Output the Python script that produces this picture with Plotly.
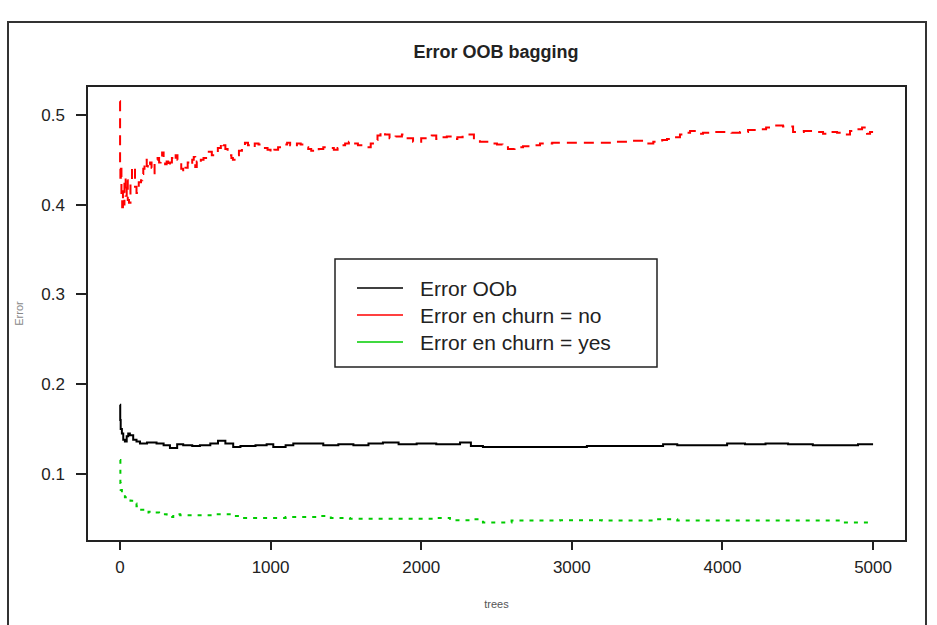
import plotly.graph_objects as go

# ---- data ----
red_trees = [0, 1, 3, 6, 10, 15, 20, 25, 30, 38, 45, 52, 60, 70, 80, 90, 100, 110, 125, 140,
             148, 155, 163, 170, 178, 185, 193, 200, 210, 220, 230, 240, 250, 260, 270, 280,
             290, 300, 310, 320, 332, 345, 357, 370, 382, 395, 407, 420, 435, 450, 465, 480,
             490, 500, 510, 520, 537, 555, 572, 590, 610, 630, 650, 670, 685, 700, 715, 730,
             740, 750, 770, 790, 810, 830, 850, 870, 895, 920, 940, 960, 980, 1000, 1025, 1050,
             1080, 1110, 1130, 1150, 1175, 1200, 1225, 1250, 1270, 1290, 1320, 1350, 1385, 1420,
             1445, 1470, 1495, 1520, 1550, 1580, 1610, 1640, 1665, 1690, 1710, 1730, 1760, 1790,
             1830, 1872, 1910, 1946, 2000, 2038, 2070, 2100, 2135, 2170, 2205, 2240, 2275, 2311,
             2350, 2390, 2450, 2503, 2540, 2576, 2620, 2676, 2730, 2789, 2870, 2966, 3100, 3275,
             3406, 3480, 3541, 3600, 3632, 3680, 3718, 3750, 3785, 3830, 3871, 3940, 4004, 4060,
             4117, 4170, 4229, 4290, 4336, 4402, 4469, 4540, 4602, 4668, 4710, 4761, 4800, 4847,
             4890, 4927, 4960, 4980, 5000]
red_err = [0.515, 0.445, 0.430, 0.440, 0.405, 0.397, 0.415, 0.400, 0.430, 0.410, 0.427, 0.405,
           0.402, 0.425, 0.440, 0.442, 0.420, 0.413, 0.425, 0.427, 0.434, 0.440, 0.446, 0.450,
           0.443, 0.440, 0.445, 0.447, 0.441, 0.435, 0.444, 0.450, 0.452, 0.447, 0.453, 0.458,
           0.451, 0.445, 0.448, 0.442, 0.447, 0.452, 0.449, 0.455, 0.450, 0.445, 0.440, 0.436,
           0.441, 0.447, 0.444, 0.450, 0.453, 0.442, 0.448, 0.446, 0.450, 0.452, 0.456, 0.459,
           0.455, 0.458, 0.463, 0.469, 0.466, 0.462, 0.458, 0.455, 0.452, 0.450, 0.455, 0.460,
           0.465, 0.469, 0.466, 0.464, 0.468, 0.467, 0.463, 0.463, 0.461, 0.458, 0.461, 0.464,
           0.467, 0.469, 0.466, 0.465, 0.468, 0.467, 0.464, 0.462, 0.460, 0.459, 0.462, 0.464,
           0.463, 0.461, 0.463, 0.466, 0.468, 0.470, 0.468, 0.466, 0.465, 0.464, 0.468, 0.472,
           0.477, 0.481, 0.478, 0.474, 0.476, 0.478, 0.474, 0.470, 0.474, 0.475, 0.477, 0.473,
           0.475, 0.476, 0.473, 0.475, 0.477, 0.478, 0.474, 0.470, 0.468, 0.467, 0.464, 0.462,
           0.464, 0.465, 0.466, 0.468, 0.469, 0.469, 0.469, 0.470, 0.471, 0.468, 0.470, 0.472,
           0.473, 0.475, 0.478, 0.480, 0.482, 0.479, 0.480, 0.481, 0.481, 0.480, 0.481, 0.483,
           0.484, 0.486, 0.488, 0.487, 0.481, 0.482, 0.481, 0.479, 0.481, 0.480, 0.478, 0.482,
           0.484, 0.486, 0.479, 0.481, 0.481]

oob_trees = [0, 2, 5, 13, 22, 33, 45, 55, 66, 88, 110, 133, 180, 243, 290, 332, 380, 420, 480,
             531, 600, 651, 700, 752, 800, 900, 974, 1018, 1100, 1151, 1263, 1350, 1450, 1550,
             1650, 1746, 1850, 1970, 2100, 2191, 2258, 2330, 2410, 2523, 2700, 2922, 3100, 3300,
             3500, 3606, 3700, 3900, 4031, 4150, 4286, 4436, 4600, 4801, 4900, 5000]
oob_err = [0.177, 0.160, 0.150, 0.145, 0.138, 0.136, 0.142, 0.145, 0.143, 0.138, 0.136, 0.134,
           0.135, 0.134, 0.132, 0.129, 0.133, 0.132, 0.131, 0.132, 0.134, 0.137, 0.134, 0.130,
           0.131, 0.132, 0.133, 0.130, 0.132, 0.134, 0.134, 0.132, 0.133, 0.132, 0.134, 0.135,
           0.133, 0.134, 0.133, 0.133, 0.135, 0.131, 0.130, 0.130, 0.130, 0.130, 0.131, 0.131,
           0.131, 0.133, 0.132, 0.132, 0.134, 0.133, 0.134, 0.133, 0.132, 0.132, 0.133, 0.133]

green_trees = [0, 3, 5, 13, 33, 46, 70, 88, 110, 130, 155, 190, 221, 260, 310, 354, 400, 531,
               620, 710, 760, 797, 900, 974, 1100, 1195, 1306, 1400, 1527, 1700, 1850, 2080,
               2191, 2324, 2410, 2600, 2922, 3200, 3566, 3700, 4000, 4400, 4801, 5000]
green_err = [0.1154, 0.090, 0.082, 0.0764, 0.074, 0.073, 0.070, 0.067, 0.064, 0.060, 0.057,
             0.058, 0.057, 0.055, 0.052, 0.055, 0.054, 0.054, 0.055, 0.055, 0.053, 0.051, 0.051,
             0.051, 0.052, 0.052, 0.053, 0.051, 0.050, 0.050, 0.050, 0.051, 0.0485, 0.0496,
             0.046, 0.048, 0.0485, 0.048, 0.0496, 0.048, 0.048, 0.048, 0.046, 0.047]

series_names = ["Error OOb", "Error en churn = no", "Error en churn = yes"]
series_colors = ["#000000", "#FF0000", "#00CC00"]
series_dash = ["solid", "10px,7px", "4px,6px"]

x_ticks = [0, 1000, 2000, 3000, 4000, 5000]
y_ticks = [0.1, 0.2, 0.3, 0.4, 0.5]

FONT = "Liberation Sans, Arial, sans-serif"

# plot-area geometry in pixels (used to place paper-referenced decorations)
L, R, T, B = 88, 905, 87, 540
W, H = 937, 625


def px(x):
    return (x - L) / (R - L)


def py(y):
    return (B - y) / (B - T)


fig = go.Figure()
for xs, ys, col, dsh, name in zip([oob_trees, red_trees, green_trees],
                                  [oob_err, red_err, green_err],
                                  series_colors, series_dash, series_names):
    fig.add_trace(go.Scatter(x=xs, y=ys, mode="lines", name=name, showlegend=False,
                             line=dict(color=col, width=2, dash=dsh, shape="hv")))

fig.update_layout(
    width=W, height=H,
    margin=dict(l=L, r=W - R, t=T, b=H - B),
    paper_bgcolor="white", plot_bgcolor="white",
    font=dict(family=FONT, color="#222"),
    title=dict(text="<b>Error OOB bagging</b>", x=(496 / W), xanchor="center",
               y=1 - 52 / H, yanchor="middle", font=dict(size=18, color="#222")),
    showlegend=False,
)
fig.update_xaxes(range=[-212, 5212], tickvals=x_ticks, ticktext=[str(v) for v in x_ticks],
                 showgrid=False, zeroline=False, showline=True, mirror=True,
                 linecolor="#222", linewidth=1.5, ticks="outside", ticklen=8,
                 tickwidth=1.5, tickcolor="#222", ticklabelstandoff=3,
                 tickfont=dict(size=17, color="#222"),
                 title=dict(text="trees", font=dict(size=11, color="#555"), standoff=24))
fig.update_yaxes(range=[0.0264, 0.531], tickvals=y_ticks, ticktext=[str(v) for v in y_ticks],
                 showgrid=False, zeroline=False, showline=True, mirror=True,
                 linecolor="#222", linewidth=1.5, ticks="outside", ticklen=10,
                 tickwidth=1.5, tickcolor="#222", ticklabelstandoff=8,
                 tickfont=dict(size=17, color="#222"),
                 title=dict(text="Error", font=dict(size=11, color="#888"), standoff=15))

# legend box (R-style legend with solid sample lines)
fig.add_shape(type="rect", xref="paper", yref="paper",
              x0=px(335), x1=px(657), y0=py(367), y1=py(259),
              line=dict(color="#222", width=1.5), fillcolor="white", layer="above")
row_y = [288, 315, 342]
for name, col, ry in zip(series_names, series_colors, row_y):
    fig.add_shape(type="line", xref="paper", yref="paper",
                  x0=px(357), x1=px(403), y0=py(ry), y1=py(ry),
                  line=dict(color=col, width=1.5), layer="above")
    fig.add_annotation(xref="paper", yref="paper", x=px(418), y=py(ry),
                       xanchor="left", yanchor="middle", showarrow=False,
                       text=name, font=dict(size=21, color="#222"))

# outer frame of the screenshot
fig.add_shape(type="rect", xref="paper", yref="paper",
              x0=px(8), x1=px(926), y0=py(640), y1=py(22),
              line=dict(color="#333", width=2), fillcolor="rgba(0,0,0,0)", layer="below")

fig.write_html("out.html")
